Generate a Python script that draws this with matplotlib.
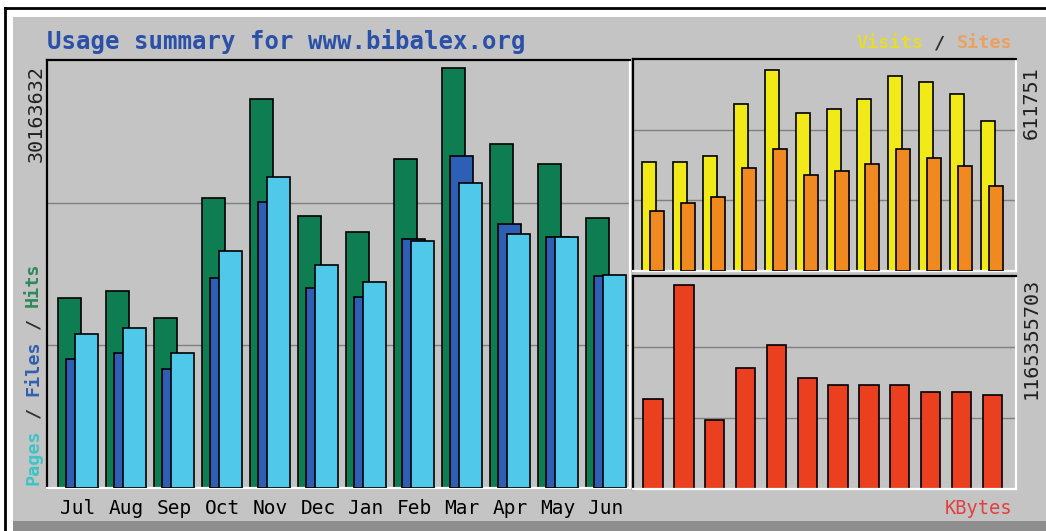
import matplotlib
matplotlib.use('Agg')
import matplotlib.pyplot as plt
from matplotlib.patches import Rectangle

W, H = 1046, 531

months = ['Jul', 'Aug', 'Sep', 'Oct', 'Nov', 'Dec', 'Jan', 'Feb', 'Mar', 'Apr', 'May', 'Jun']
hits = [13610000, 14180000, 12240000, 20810000, 27930000, 19510000,
        18360000, 23610000, 30163632, 24690000, 23250000, 19370000]
files = [9290000, 9720000, 8570000, 15050000, 20520000, 14330000,
         13750000, 17850000, 23830000, 18930000, 18000000, 15260000]
pages = [11090000, 11520000, 9720000, 16990000, 22320000, 15980000,
         14760000, 17710000, 21880000, 18210000, 18000000, 15330000]
visits = [330900, 330900, 349100, 505800, 611751, 480000,
          492400, 523400, 593200, 574700, 536800, 456300]
sites = [182200, 205200, 225000, 313300, 368900, 292700,
         305100, 323600, 368900, 343100, 318800, 256800]
kbytes = [512900000, 1165355703, 392900000, 689600000, 821700000, 634500000,
          595700000, 595700000, 595700000, 556300000, 556300000, 536600000]

BG = '#c4c4c4'
C_HITS = '#0f7d52'
C_FILES = '#2d5fb5'
C_PAGES = '#50c8ea'
C_VISITS = '#f2ea18'
C_SITES = '#f08a20'
C_KB = '#ea4020'
MONO = 'DejaVu Sans Mono'


def box(x0, y0, x1, y1):
    return [x0 / W, 1 - y1 / H, (x1 - x0) / W, (y1 - y0) / H]


def style_panel(ax):
    ax.set_facecolor(BG)
    ax.spines['top'].set_color('black')
    ax.spines['left'].set_color('black')
    ax.spines['bottom'].set_color('white')
    ax.spines['right'].set_color('white')
    for s in ax.spines.values():
        s.set_linewidth(1.6)
    ax.set_yticks([])
    ax.tick_params(axis='x', length=0)


fig = plt.figure(figsize=(W / 100, H / 100), dpi=100)
fig.patch.set_facecolor('white')

# background frame
bg = fig.add_axes([0, 0, 1, 1])
bg.set_xlim(0, W)
bg.set_ylim(H, 0)
bg.axis('off')
bg.add_patch(Rectangle((13, 17), W - 13, 505, facecolor=BG, edgecolor='none'))
bg.add_patch(Rectangle((13, 521), W - 13, 10, facecolor='#8e8e8e', edgecolor='none'))
bg.plot([5, W], [8, 8], color='black', lw=2)
bg.plot([5, 5], [8, H], color='black', lw=2)

# main panel: hits / files / pages
ax = fig.add_axes(box(47, 60, 630, 488))
style_panel(ax)
x = list(range(len(months)))
bw = 23 / 48
ax.bar([i for i in x], hits, width=bw, align='edge', color=C_HITS, edgecolor='black', lw=1.2, zorder=2)
ax.bar([i + 8 / 48 for i in x], files, width=bw, align='edge', color=C_FILES, edgecolor='black', lw=1.2, zorder=3)
ax.bar([i + 17 / 48 for i in x], pages, width=bw, align='edge', color=C_PAGES, edgecolor='black', lw=1.2, zorder=4)
top = max(hits) * 428 / 420
ax.set_ylim(0, top)
ax.set_xlim(-11 / 48, 572 / 48)
for f in (1 / 3, 2 / 3):
    ax.axhline(top * f, color='#808080', lw=1, zorder=1)
ax.set_xticks([i + 20 / 48 for i in x])
ax.set_xticklabels(months, family=MONO, fontsize=14)
ax.tick_params(axis='x', pad=8)

# visits / sites panel
ax2 = fig.add_axes(box(633, 59, 1016, 271))
style_panel(ax2)
ax2.set_xticks([])
s2 = 30.8
ax2.bar(x, visits, width=14 / s2, align='edge', color=C_VISITS, edgecolor='black', lw=1.2, zorder=2)
ax2.bar([i + 8 / s2 for i in x], sites, width=14 / s2, align='edge', color=C_SITES, edgecolor='black', lw=1.2, zorder=3)
top2 = max(visits) * 212 / 201.5
ax2.set_ylim(0, top2)
ax2.set_xlim(-8.7 / s2, (383 - 8.7) / s2)
for f in (1 / 3, 2 / 3):
    ax2.axhline(top2 * f, color='#808080', lw=1, zorder=1)

# kbytes panel
ax3 = fig.add_axes(box(633, 276, 1016, 489))
style_panel(ax3)
ax3.set_xticks([])
s3 = 30.85
ax3.bar(x, kbytes, width=19.4 / s3, align='edge', color=C_KB, edgecolor='black', lw=1.2, zorder=2)
top3 = max(kbytes) * 213 / 204
ax3.set_ylim(0, top3)
ax3.set_xlim(-10.3 / s3, (383 - 10.3) / s3)
for f in (1 / 3, 2 / 3):
    ax3.axhline(top3 * f, color='#808080', lw=1, zorder=1)

# texts
bg.text(47, 41, 'Usage summary for www.bibalex.org', family=MONO, fontsize=17.3,
        fontweight='bold', color='#2b50a8', ha='left', va='center')
bg.text(36, 65, str(max(hits)), family=MONO, fontsize=14.5, rotation=90,
        ha='center', va='top', color='#202020')
bg.text(1031, 66, str(max(visits)), family=MONO, fontsize=14.5, rotation=90,
        ha='center', va='top', color='#202020')
bg.text(1031, 278, str(max(kbytes)), family=MONO, fontsize=14.5, rotation=90,
        ha='center', va='top', color='#202020')

# Pages / Files / Hits legend (rotated)
fs = 13.3
adv = 0.602 * fs * 100 / 72
parts = [('Pages', 0, '#3cc4c8'), ('/', 6, '#303030'), ('Files', 8, '#3060b0'),
         ('/', 14, '#303030'), ('Hits', 16, '#2e8a5a')]
for txt, k, col in parts:
    bg.text(33, 485 - k * adv, txt, family=MONO, fontsize=fs, fontweight='bold',
            rotation=90, rotation_mode='anchor', ha='left', va='center', color=col)

# Visits / Sites legend
fs2 = 13.3
adv2 = 0.602 * fs2 * 100 / 72
x0 = 1012 - 14 * adv2
for txt, k, col in [('Visits', 0, '#e4dc30'), ('/', 7, '#303030'), ('Sites', 9, '#eaa060')]:
    bg.text(x0 + k * adv2, 43, txt, family=MONO, fontsize=fs2, fontweight='bold',
            ha='left', va='center', color=col)

bg.text(1012, 508, 'KBytes', family=MONO, fontsize=13.5, ha='right', va='center', color='#e04040')

fig.savefig('out.png', dpi=100, facecolor=fig.get_facecolor())
